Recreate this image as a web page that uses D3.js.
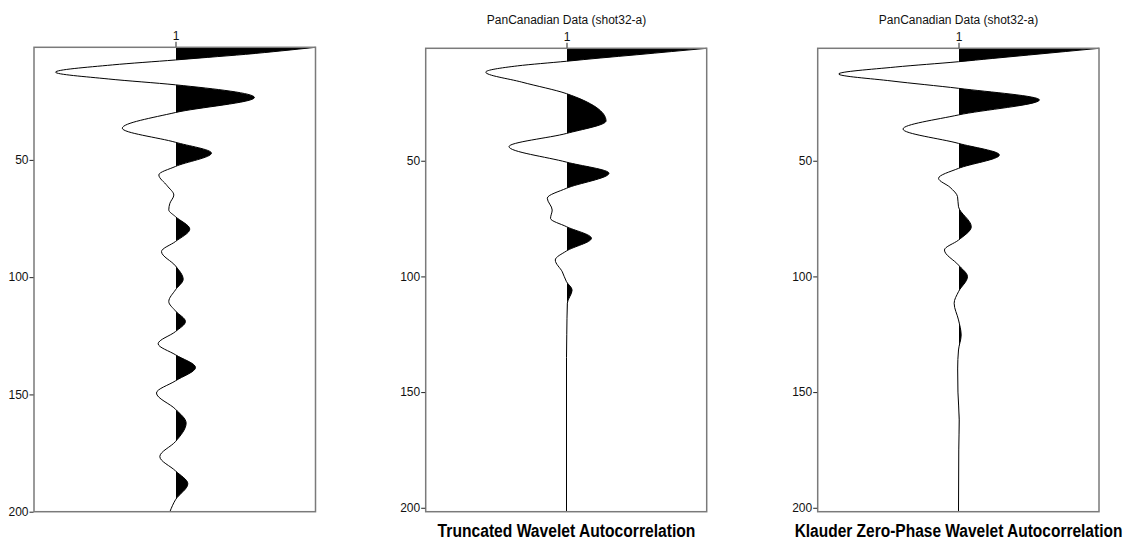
<!DOCTYPE html>
<html>
<head>
<meta charset="utf-8">
<script src="https://cdn.jsdelivr.net/npm/d3@7"></script>
<style>
  body { margin: 0; background: #fff; }
  svg { display: block; }
</style>
</head>
<body>
<svg id="chart" width="1128" height="541"></svg>
<script>
// ---- data: autocorrelation traces (lag in samples, normalised amplitude) ----
const lagsFull = [2, 3.5, 5, 6.3, 7.4, 9.5, 12.6, 15.5, 18, 23.4, 29.8, 36.5, 42.5, 47.1, 52.8, 56.4,
  61, 65, 68.5, 71.3, 74.2, 79.5, 84.8, 89.1, 95.2, 100.9, 105.4, 110.4, 114.4, 118.9, 123.2,
  128.4, 133.1, 138.5, 144.2, 149.4, 156.3, 162.2, 170.1, 176.5, 182.6, 188.1, 194.9, 200];
const ampFull = [1.0, 0.76, 0.5, 0.23, 0, -0.45, -0.857, -0.48, 0, 0.564, 0, -0.38, 0, 0.257, 0, -0.119,
  -0.06, -0.012, -0.04, -0.048, 0, 0.102, 0, -0.1, 0, 0.055, 0, -0.048, 0, 0.071, 0,
  -0.124, 0, 0.143, 0, -0.136, 0, 0.076, 0, -0.112, 0, 0.088, 0, -0.04];

const lagsTrunc = [1.4, 2.8, 4.2, 5.6, 7.0, 9.0, 11.7, 16, 21.0, 32.8, 38.2, 43.9, 50.6, 55.4, 61.9,
  66.2, 71.3, 74.9, 78.5, 83.5, 89, 92.9, 98, 102.3, 105.9, 111.6, 125, 135, 201.7];
const ampTrunc = [1.0, 0.75, 0.5, 0.24, 0, -0.35, -0.576, -0.32, 0, 0.282, 0, -0.41, 0, 0.303, 0,
  -0.137, -0.102, -0.114, 0, 0.178, 0, -0.08, -0.03, 0, 0.04, 0.006, 0.002, 0, 0];

const lagsKlauder = [1.4, 2.8, 4.3, 5.8, 7.2, 9.5, 12.5, 15.5, 18.7, 23.7, 30.2, 36.3, 42.5, 47.5, 53.3,
  57.6, 61.5, 65.5, 69.9, 78.5, 84.3, 88.6, 95.1, 100.1, 106.6, 111.6, 118.8, 125.3, 131.8,
  140, 150, 162, 175, 201.7];
const ampKlauder = [1.0, 0.76, 0.5, 0.24, 0, -0.45, -0.853, -0.48, 0, 0.576, 0, -0.395, 0, 0.291, 0,
  -0.142, -0.06, -0.007, 0, 0.091, 0, -0.1, 0, 0.064, 0, -0.031, 0, 0.019, 0,
  -0.006, -0.004, 0.005, 0.002, 0];

// ---- axis labels and titles ----
const lagTicks = [50, 100, 150, 200];
const traceTicks = [1];
const dataTitle = "PanCanadian Data (shot32-a)";
const panelTitles = ["", "Truncated Wavelet Autocorrelation", "Klauder Zero-Phase Wavelet Autocorrelation"];

// ---- layout: frame box, trace centre / half-width, lag range, footer width ----
const panels = [
  { lags: lagsFull,    amps: ampFull,    left: 34,    right: 315.5, zero: 175.5, half: 140,   top: 47.3, bottom: 511.7, lagDomain: [2, 200],     header: "",        footer: panelTitles[0], footerWidth: 0 },
  { lags: lagsTrunc,   amps: ampTrunc,   left: 425.7, right: 706.7, zero: 566.5, half: 140.2, top: 48.3, bottom: 511.7, lagDomain: [1.4, 201.7], header: dataTitle, footer: panelTitles[1], footerWidth: 258 },
  { lags: lagsKlauder, amps: ampKlauder, left: 817.7, right: 1099,  zero: 958.5, half: 140.5, top: 48.3, bottom: 511.7, lagDomain: [1.4, 201.7], header: dataTitle, footer: panelTitles[2], footerWidth: 328 }
];

const svg = d3.select("#chart");
const defs = svg.append("defs");
const font = "'Liberation Sans', Arial, Helvetica, sans-serif";

panels.forEach((p, i) => {
  const x = d3.scaleLinear().domain([-1, 1]).range([p.zero - p.half, p.zero + p.half]);
  const y = d3.scaleLinear().domain(p.lagDomain).range([p.top, p.bottom]);
  const trace = d3.scaleLinear().domain([0, 2]).range([x(-1), x(1)]);
  const pts = p.lags.map((l, k) => ({ lag: l, amp: p.amps[k] }));
  const g = svg.append("g");

  // clip so only the positive lobes get filled (edge on a pixel boundary)
  const clipId = "pos" + i;
  defs.append("clipPath").attr("id", clipId)
    .append("rect")
    .attr("x", x(0) + 0.5).attr("y", p.top)
    .attr("width", x(1) - x(0) + 2).attr("height", p.bottom - p.top);

  const area = d3.area()
    .curve(d3.curveMonotoneY)
    .y(d => y(d.lag))
    .x0(x(0))
    .x1(d => x(d.amp));

  const line = d3.line()
    .curve(d3.curveMonotoneY)
    .x(d => x(d.amp))
    .y(d => y(d.lag));

  g.append("path").datum(pts)
    .attr("d", area)
    .attr("fill", "#000")
    .attr("clip-path", `url(#${clipId})`);

  g.append("path").datum(pts)
    .attr("d", line)
    .attr("fill", "none")
    .attr("stroke", "#000")
    .attr("stroke-width", 1);

  // frame
  g.append("rect")
    .attr("x", p.left).attr("y", p.top)
    .attr("width", p.right - p.left).attr("height", p.bottom - p.top)
    .attr("fill", "none")
    .attr("stroke", "#7a7a7a")
    .attr("stroke-width", 1.5);

  // lag axis
  const ay = g.append("g")
    .attr("transform", `translate(${p.left - 0.5},0)`)
    .call(d3.axisLeft(y).tickValues(lagTicks).tickSize(4).tickPadding(1).tickFormat(d3.format("d")));
  ay.select(".domain").remove();
  ay.selectAll("line").attr("stroke", "#222");
  ay.selectAll("text").attr("font-family", font).attr("font-size", 12).attr("fill", "#111");

  // trace axis
  const ax = g.append("g")
    .attr("transform", `translate(0,${p.top - 0.5})`)
    .call(d3.axisTop(trace).tickValues(traceTicks).tickSize(5).tickPadding(2).tickFormat(d3.format("d")));
  ax.select(".domain").remove();
  ax.selectAll("line").attr("stroke", "#222");
  ax.selectAll("text").attr("font-family", font).attr("font-size", 12).attr("fill", "#111");

  if (p.header) {
    g.append("text")
      .attr("x", x(0)).attr("y", 23.5)
      .attr("text-anchor", "middle")
      .attr("font-family", font).attr("font-size", 12).attr("fill", "#111")
      .text(p.header);
  }
  if (p.footer) {
    // condensed bold caption: squeeze horizontally to the narrow width
    const t = g.append("text")
      .attr("x", 0).attr("y", 0)
      .attr("text-anchor", "middle")
      .attr("font-family", font)
      .attr("font-weight", "bold")
      .attr("font-size", 19).attr("fill", "#000")
      .text(p.footer);
    const natural = t.node().getComputedTextLength();
    const sx = p.footerWidth / natural;
    t.attr("transform", `translate(${x(0)},537) scale(${sx},1)`);
  }
});
</script>
</body>
</html>
